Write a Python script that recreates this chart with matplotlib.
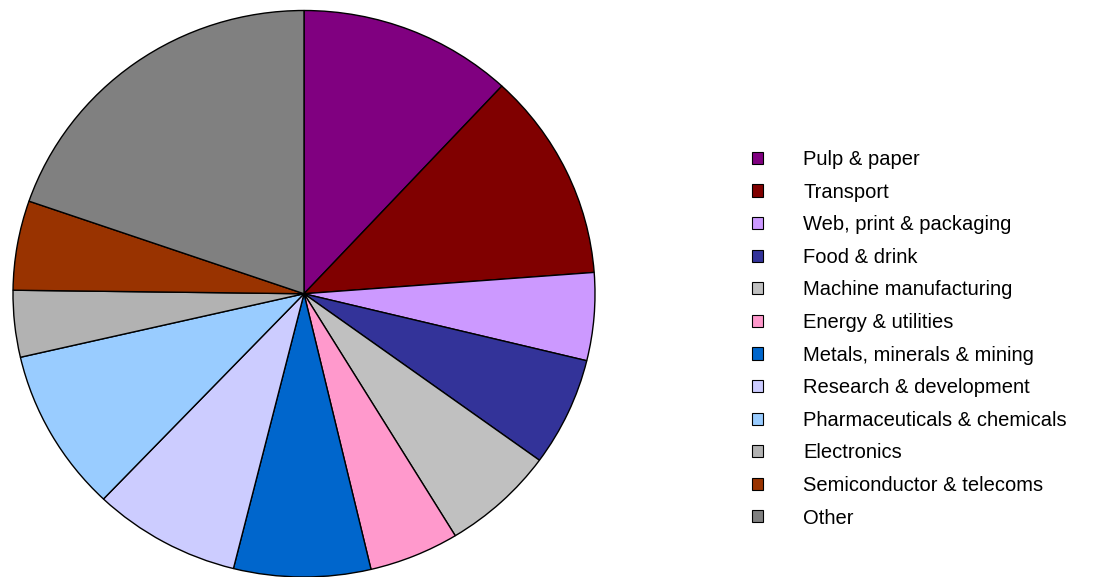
import matplotlib.pyplot as plt

plt.rcParams['font.family'] = ['Liberation Sans', 'DejaVu Sans']

# sectors, clockwise from 12 o'clock (shares in %)
sectors = ['Pulp & paper', 'Transport', 'Web, print & packaging', 'Food & drink',
           'Machine manufacturing', 'Energy & utilities', 'Metals, minerals & mining',
           'Research & development', 'Pharmaceuticals & chemicals', 'Electronics',
           'Semiconductor & telecoms', 'Other']
shares = [11.9, 11.9, 5.0, 6.2, 6.3, 5.0, 7.6, 8.2, 9.3, 3.8, 5.1, 19.7]
colors = ['#800080', '#800000', '#CC99FF', '#333399', '#C0C0C0', '#FF99CC',
          '#0066CC', '#CCCCFF', '#99CCFF', '#B2B2B2', '#993300', '#808080']

W, H = 1099, 577
fig = plt.figure(figsize=(W / 100, H / 100), dpi=100)

# pie is slightly wider than tall in the original
ax = fig.add_axes([13 / W, 0.0, 582 / W, 566.5 / H])
wedges, _ = ax.pie(shares, colors=colors, startangle=90, counterclock=False,
                   wedgeprops=dict(edgecolor='black', linewidth=1.0))
ax.set_aspect('auto')
ax.set_xlim(-1.0, 1.0)
ax.set_ylim(-1.0, 1.0)
ax.axis('off')

for w in wedges:
    w.set_clip_on(False)

leg = fig.legend(wedges, sectors, loc='upper left',
                 bbox_to_anchor=(752 / W, 1 - 150 / H),
                 frameon=False, fontsize=14.5,
                 handlelength=0.55, handleheight=0.55,
                 handletextpad=1.99, labelspacing=0.675, borderpad=0,
                 borderaxespad=0)
for h in leg.legend_handles:
    h.set_linewidth(0.8)
    h.set_edgecolor('black')

fig.savefig('out.png', dpi=100)
